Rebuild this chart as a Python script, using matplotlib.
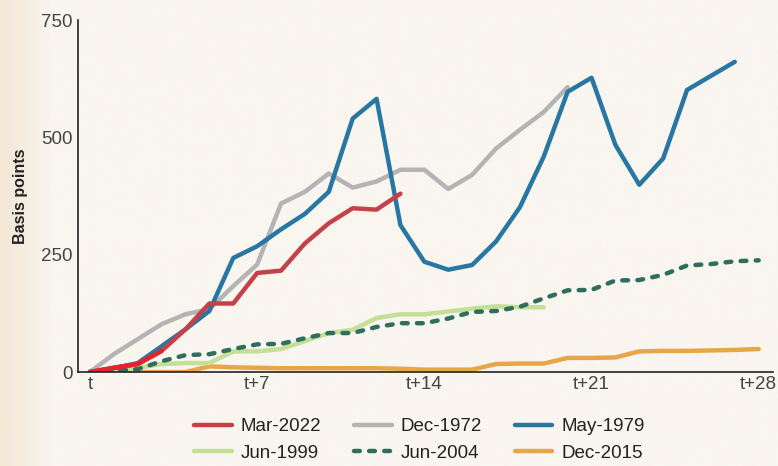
"""
Basis points path after start of tightening cycle
"""

import numpy as np
import matplotlib.pyplot as plt
from matplotlib.lines import Line2D
from matplotlib.colors import LinearSegmentedColormap

plt.rcParams['font.family'] = ['Liberation Sans', 'DejaVu Sans']

# Datos (puntos básicos por paso)
mar_2022 = [0, 9, 17, 45, 91, 146, 146, 211, 216, 274, 317, 349, 346, 380]
dec_1972 = [0, 38, 70, 102, 123, 134, 183, 229, 359, 384, 423, 393, 406, 431,
            431, 390, 420, 476, 516, 554, 607]
may_1979 = [0, 8, 19, 55, 91, 130, 243, 268, 304, 337, 384, 540, 582, 313,
            235, 218, 228, 278, 351, 459, 597, 627, 484, 399, 455, 601, 631, 661]
jun_1999 = [0, 3, 9, 17, 19, 19, 44, 44, 49, 66, 83, 90, 115, 123, 123, 129,
            135, 140, 138, 138]
jun_2004 = [0, 3, 6, 23, 36, 38, 49, 59, 60, 72, 83, 83, 96, 104, 104, 114,
            128, 130, 139, 157, 174, 175, 195, 196, 207, 227, 230, 236, 238]
dec_2015 = [0, 0, 0, 0, 0, 12, 10, 9, 8, 8, 8, 8, 8, 7, 5, 5, 5, 17, 18, 18,
            30, 30, 31, 44, 45, 45, 46, 47, 49]

xticks = [0, 7, 14, 21, 28]
xtick_labels = ['t', 't+7', 't+14', 't+21', 't+28']
yticks = [0, 250, 500, 750]

# Colores
c_red = '#c5414a'
c_red_hi = '#e8222c'
c_gray = '#b4b4b4'
c_blue = '#2877a3'
c_lgreen = '#c4df96'
c_dgreen = '#2f6d5f'
c_orange = '#e8a54a'
bg = '#f9f5ef'

fig = plt.figure(figsize=(7.78, 4.66), dpi=100, facecolor=bg)

# fondo con degradado suave en el borde izquierdo
bg_ax = fig.add_axes([0, 0, 1, 1], zorder=-10)
grad = np.linspace(0, 1, 512)[None, :]
cmap = LinearSegmentedColormap.from_list('bg', ['#f3e7d5', bg], N=256)
bg_ax.imshow(grad, aspect='auto', cmap=cmap, extent=[0, 1, 0, 1],
             vmin=0, vmax=0.065)
bg_ax.axis('off')

ax = fig.add_axes([0.1003, 0.2017, 0.8933, 0.7553])
ax.set_facecolor('none')

lw = 3.2
ax.plot(range(len(dec_2015)), dec_2015, color=c_orange, lw=lw, solid_capstyle='round')
ax.plot(range(len(jun_1999)), jun_1999, color=c_lgreen, lw=lw, solid_capstyle='round')
ax.plot(range(len(jun_2004)), jun_2004, color=c_dgreen, lw=lw,
        dashes=(1.3, 2.1), dash_capstyle='round')
ax.plot(range(len(dec_1972)), dec_1972, color=c_gray, lw=lw, solid_capstyle='round')
ax.plot(range(len(may_1979)), may_1979, color=c_blue, lw=lw, solid_capstyle='round')
ax.plot(range(len(mar_2022)), mar_2022, color=c_red, lw=lw, solid_capstyle='round')
ax.plot(range(4), mar_2022[:4], color=c_red_hi, lw=lw, solid_capstyle='round')

ax.set_xlim(-0.5, 28.6)
ax.set_ylim(0, 750)
ax.set_xticks(xticks)
ax.set_xticklabels(xtick_labels)
ax.set_yticks(yticks)
ax.tick_params(length=0, labelsize=13.5, labelcolor='#444444')
ax.tick_params(axis='y', pad=4)
ax.tick_params(axis='x', pad=3)
for s in ['top', 'right']:
    ax.spines[s].set_visible(False)
for s in ['left', 'bottom']:
    ax.spines[s].set_color('#222222')
    ax.spines[s].set_linewidth(1.2)

ax.set_ylabel('Basis points', fontsize=11.5, fontweight='bold', color='#222222',
              labelpad=9)

# Leyenda (orden por columnas)
handles = [
    Line2D([0], [0], color=c_red, lw=lw, solid_capstyle='round', label='Mar-2022'),
    Line2D([0], [0], color=c_lgreen, lw=lw, solid_capstyle='round', label='Jun-1999'),
    Line2D([0], [0], color=c_gray, lw=lw, solid_capstyle='round', label='Dec-1972'),
    Line2D([0], [0], color=c_dgreen, lw=lw, dashes=(1.3, 2.1), dash_capstyle='round',
           label='Jun-2004'),
    Line2D([0], [0], color=c_blue, lw=lw, solid_capstyle='round', label='May-1979'),
    Line2D([0], [0], color=c_orange, lw=lw, solid_capstyle='round', label='Dec-2015'),
]
leg = fig.legend(handles=handles, ncol=3, loc='center', bbox_to_anchor=(0.539, 0.056),
                 frameon=False, fontsize=13.5, handlelength=2.0, handletextpad=0.48,
                 columnspacing=1.75, labelspacing=0.5)
for t in leg.get_texts():
    t.set_color('#222222')

fig.savefig('out.png', dpi=100, facecolor=bg)
